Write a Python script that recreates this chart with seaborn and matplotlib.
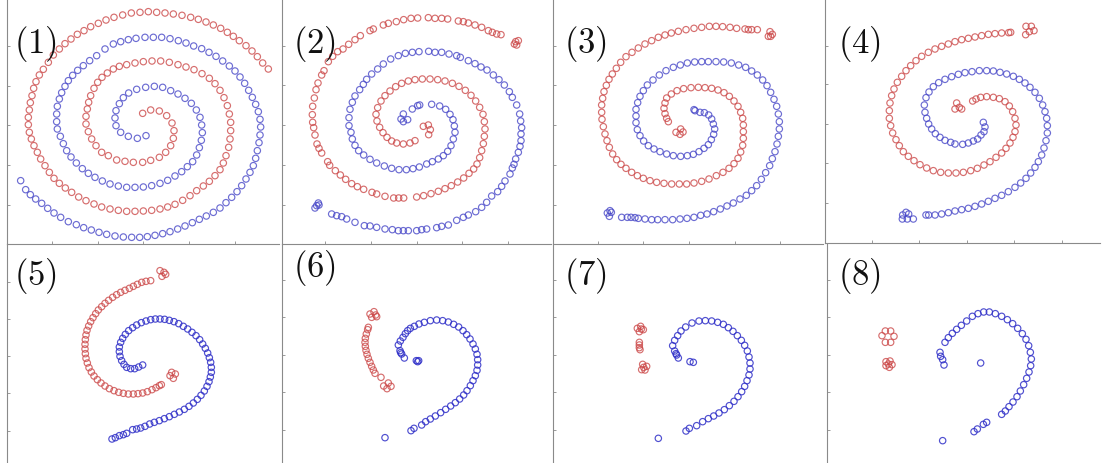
import matplotlib
matplotlib.use("Agg")
import matplotlib.pyplot as plt
import seaborn as sns

sns.set_style("white")
plt.rcParams["mathtext.fontset"] = "cm"

# ---------------- data: point positions (panel-local pixel units, y downwards)
P1_RED = [(428,343),(452,333),(478,336),(500,350),(516,372),(522,395),(520,418),(512,440),(497,460),(478,475),(452,484),(428,490),(400,490),(375,487),(350,483),(325,470),(305,460),(288,440),(275,420),(265,398),(258,375),(258,352),(262,330),(266,310),(272,290),(282,268),(293,250),(306,235),(322,222),(340,210),(358,202),(380,197),(405,192),(430,188),(456,186),(482,186),(508,190),(534,197),(558,204),(582,212),(606,224),(628,238),(645,254),(660,274),(672,296),(682,320),(688,345),(692,370),(692,395),(690,420),(686,445),(678,470),(670,492),(660,512),(645,530),(628,547),(610,561),(590,575),(570,590),(548,604),(525,616),(503,624),(480,630),(455,634),(430,636),(405,637),(380,637),(355,634),(330,630),(305,624),(282,615),(258,605),(236,594),(215,580),(196,567),(178,553),(162,538),(148,520),(135,500),(122,480),(112,460),(102,440),(94,420),(88,400),(85,377),(85,355),(88,333),(91,311),(96,290),(101,268),(108,248),(118,228),(130,211),(145,190),(160,168),(178,150),(195,134),(213,120),(232,106),(252,95),(272,83),(295,73),(318,63),(342,55),(368,48),(394,42),(420,40),(445,38),(470,40),(495,42),(520,45),(546,49),(572,55),(595,61),(618,69),(640,78),(662,88),(682,100),(700,112),(718,125),(738,140),(756,156),(772,173),(788,192),(805,210)]
P1_BLUE = [(438,410),(412,418),(385,412),(362,400),(348,380),(345,357),(348,335),(358,314),(370,296),(386,282),(410,271),(437,265),(463,262),(488,265),(512,275),(534,285),(555,298),(574,313),(589,333),(600,355),(605,378),(607,401),(604,424),(598,446),(590,468),(578,488),(562,503),(545,518),(525,531),(503,544),(480,553),(455,560),(430,564),(405,565),(380,565),(355,561),(330,555),(307,546),(285,535),(265,523),(247,509),(229,492),(213,474),(200,455),(190,434),(181,412),(172,390),(170,368),(170,345),(172,322),(178,300),(185,281),(195,262),(205,245),(218,229),(233,214),(250,200),(269,185),(290,170),(315,150),(340,135),(362,128),(385,122),(408,118),(435,115),(460,115),(485,115),(510,119),(535,125),(558,132),(581,141),(605,149),(627,160),(648,172),(668,186),(688,201),(705,216),(720,234),(734,253),(746,274),(757,295),(767,316),(775,338),(780,361),(782,384),(780,408),(777,431),(772,455),(767,478),(760,500),(750,520),(738,540),(725,560),(711,578),(695,595),(678,611),(660,627),(640,640),(619,651),(598,661),(577,671),(555,681),(533,690),(510,698),(488,704),(465,709),(442,713),(419,715),(395,715),(370,714),(345,711),(320,706),(297,700),(274,693),(251,686),(229,677),(205,668),(182,655),(162,642),(143,628),(125,613),(107,600),(91,587),(77,572),(62,545)]

P2_RED = [(420,425),(405,432),(385,435),(365,432),(350,426),(336,415),(324,401),(314,385),(306,366),(303,346),(308,326),(318,306),(330,290),(345,276),(362,263),(380,253),(400,246),(420,242),(442,240),(465,240),(488,242),(510,246),(532,253),(552,262),(571,274),(588,289),(602,306),(614,325),(624,346),(628,368),(630,390),(628,412),(625,434),(620,455),(614,476),(606,495),(596,510),(582,523),(566,537),(548,549),(529,560),(510,569),(490,577),(468,584),(446,590),(425,594),(386,597),(371,597),(356,597),(330,592),(305,585),(291,580),(266,571),(247,563),(230,554),(212,541),(196,528),(181,515),(164,499),(158,488),(140,462),(132,448),(126,435),(120,408),(116,386),(113,370),(112,347),(113,322),(118,297),(123,272),(129,252),(140,228),(147,215),(160,188),(173,172),(188,158),(204,150),(221,136),(240,122),(256,110),(285,95),(295,90),(325,78),(340,73),(364,68),(386,62),(408,58),(428,57),(460,56),(480,58),(500,58),(518,60),(550,66),(565,68),(580,72),(600,78),(620,85),(640,95),(652,100),(665,105),(678,107),
          (722,128),(730,125),(725,138),(718,135),
          (445,382),(460,378),(466,392),(461,407)]
P2_BLUE = [(385,345),(378,360),(398,362),(385,368),
           (412,330),(428,320),(434,318),(470,316),(494,321),(512,331),(525,346),(534,362),(538,381),(540,400),(535,420),(528,440),(518,457),(505,470),(490,480),(472,488),(455,495),(433,504),(414,509),(394,512),(372,512),(350,508),(328,501),(305,492),(285,481),(266,468),(251,455),(240,439),(232,420),(228,400),(222,380),(222,356),(225,331),(232,310),(240,291),(254,272),(265,256),(275,241),(290,225),(308,210),(325,195),(347,180),(370,170),(391,163),(412,160),(432,158),(461,157),(480,160),(500,160),(522,165),(545,170),(556,175),(580,185),(600,194),(618,204),(636,213),(655,228),(672,242),(688,258),(703,278),(712,295),(725,318),(734,345),(737,366),(740,386),(738,405),(738,425),(735,442),(730,460),(722,480),(717,496),(712,507),(705,525),(690,546),(680,562),(668,578),(650,591),(635,610),(620,625),(602,638),(580,648),(565,655),(545,664),(520,678),(500,682),(485,686),(455,690),(440,692),(425,695),(400,695),(385,695),(370,695),(352,692),(330,690),(305,685),(285,681),(268,680),(240,670),(215,660),(200,653),(185,650),(170,645),
           (130,612),(125,620),(120,627),(132,618)]

P3_RED = [(660,98),(667,106),(655,112),(662,112),
          (622,92),(605,92),(595,92),(585,90),(560,88),(540,85),(518,83),(498,82),(478,82),(455,85),(432,88),(408,92),(385,97),(364,102),(345,108),(325,115),(305,125),(285,135),(265,147),(246,160),(228,173),(212,190),(199,208),(187,225),(177,241),(169,259),(162,278),(158,298),(155,318),(155,340),(156,361),(160,383),(165,405),(171,425),(178,445),(188,465),(200,482),(213,496),(228,508),(245,520),(262,530),(280,538),(300,545),(320,550),(342,553),(365,555),(388,555),(410,555),(432,552),(455,547),(477,540),(499,530),(519,520),(537,508),(552,494),(564,478),(572,459),(578,439),(580,418),(580,398),(580,378),(578,358),(572,340),(564,322),(552,306),(538,292),(522,281),(504,273),(485,268),(465,266),(445,265),(423,266),(401,269),(381,275),(364,285),(350,297),(345,312),(342,328),(345,344),(350,358),(355,368),
          (378,400),(392,390),(399,399),(390,406)]
P3_BLUE = [(180,635),(172,642),(178,652),(184,640),
           (215,655),(232,655),(243,655),(255,656),(265,658),(285,660),(305,662),(323,662),(345,662),(368,662),(390,660),(411,658),(432,655),(452,649),(471,645),(491,638),(511,630),(531,621),(550,612),(570,600),(589,589),(605,575),(620,560),(634,541),(647,521),(659,500),(667,479),(675,458),(681,435),(685,412),(688,390),(688,368),(685,345),(680,322),(672,301),(662,280),(651,260),(638,243),(622,228),(605,216),(587,205),(566,198),(544,192),(521,189),(498,188),(475,188),(455,188),(434,189),(412,192),(391,198),(370,205),(348,215),(328,228),(309,243),(292,258),(280,275),(270,292),(263,311),(258,331),(258,351),(258,371),(262,392),(270,410),(281,426),(295,440),(312,450),(330,458),(350,465),(370,470),(392,472),(412,470),(430,466),(447,458),(462,448),(475,437),(484,422),(491,406),(494,390),(490,375),(485,360),(476,348),(463,341),(450,340),(435,335),(432,332)]

P4_RED = [(618,82),(634,82),(642,95),(628,98),(617,107),
          (572,100),(566,101),(545,102),(525,104),(505,106),(485,110),(465,114),(445,118),(425,122),(405,128),(385,135),(365,142),(345,150),(325,160),(305,172),(288,185),(272,200),(258,215),(245,232),(232,250),(222,270),(215,290),(210,312),(208,335),(208,358),(212,380),(218,402),(228,422),(238,440),(250,458),(265,472),(282,485),(300,497),(320,507),(340,515),(362,520),(385,522),(408,522),(430,520),(452,515),(472,508),(492,498),(510,488),(528,475),(545,462),(558,448),(570,432),(579,415),(585,398),(588,378),(585,358),(578,338),(568,321),(555,308),(538,299),(520,295),(500,293),(482,295),(468,300),(458,306),
          (410,312),(418,325),(405,330),(425,330)]
P4_BLUE = [(248,648),(258,640),(266,645),(262,660),(280,660),(247,660),
           (318,648),(326,648),(345,648),(365,645),(385,641),(405,636),(425,632),(445,628),(465,622),(485,615),(505,607),(525,598),(545,589),(565,578),(585,565),(602,552),(618,538),(632,522),(645,505),(655,488),(665,468),(672,447),(678,425),(682,402),(682,380),(680,358),(675,338),(668,318),(658,298),(645,280),(630,265),(615,252),(598,241),(580,232),(560,225),(540,220),(520,216),(500,215),(478,215),(456,218),(435,221),(415,226),(395,233),(375,241),(356,251),(340,263),(327,279),(318,296),(313,318),(315,340),(320,358),(326,375),(335,390),(346,404),(360,415),(375,424),(392,430),(405,435),(428,436),(445,432),(460,426),(473,420),(483,408),(492,398),(495,384),(490,370)]

P5_RED = [(480,95),(492,100),(486,112),(497,106),
          (452,125),(438,127),(425,130),(412,136),(400,142),(388,148),(375,154),(362,160),(350,167),(338,175),(326,184),(315,193),(305,203),(295,213),(287,224),(279,236),(272,248),(266,261),(261,274),(258,288),(256,302),(255,316),(255,330),(256,344),(258,358),(262,372),(267,386),(274,399),(282,411),(292,422),(303,432),(315,441),(328,449),(342,455),(356,460),(370,463),(385,465),(400,465),(414,464),(428,462),(442,458),(456,452),(468,446),(478,440),(484,437),
          (515,400),(526,405),(520,418),(510,410)]
P5_BLUE = [(428,378),(416,384),(404,389),(392,389),(380,385),(372,376),(365,365),(360,352),(358,338),(358,324),(362,310),(368,298),(376,286),(386,275),(398,266),(410,258),(424,251),(438,246),(452,242),(466,240),(480,240),(494,241),(508,244),(522,248),(536,254),(550,262),(563,270),(576,280),(588,290),(599,302),(608,315),(616,328),(623,342),(628,356),(632,370),(634,385),(634,400),(631,414),(627,428),(621,442),(613,456),(603,469),(592,481),(580,492),(567,502),(553,511),(538,519),(523,526),(508,533),(493,539),(478,545),(463,550),(449,555),(435,562),(422,567),(410,570),(398,572),
           (380,583),(370,587),(358,590),(346,596),(336,600)]

P6_RED = [(285,225),(297,218),(305,233),(290,235),(302,228),
          (280,265),(278,272),(274,285),(271,298),(270,310),(271,322),(273,334),(276,346),(280,358),(285,370),(290,382),(295,393),(300,403),(318,415),
          (326,441),(340,432),(348,442),(336,449)]
P6_BLUE = [(370,318),(376,306),(384,295),(391,284),(398,275),(406,268),(418,262),(432,255),(448,250),(466,245),(485,243),(503,245),(520,249),(536,256),(551,264),(564,275),(575,287),(585,300),(594,315),(601,330),(606,346),(608,362),(608,378),(606,394),(601,410),(594,425),(586,440),(576,455),(566,468),(554,480),(541,491),(527,501),(512,511),(497,521),(481,531),(466,540),(452,548),(440,558),
           (375,335),(380,345),(388,357),(377,341),(424,365),(431,365),(428,368),
           (408,575),(417,568),(330,596)]

P7_RED = [(262,268),(272,262),(280,272),(268,278),(274,270),
          (268,310),(268,318),(268,326),(270,332),
          (278,376),(290,382),(285,393),(275,392),(281,385)]
P7_BLUE = [(368,320),(374,304),(383,290),(393,276),(407,264),(426,252),(447,246),(466,245),(485,246),(503,250),(520,256),(535,266),(549,277),(562,290),(574,304),(584,319),(592,336),(597,354),(600,372),(600,390),(597,408),(591,425),(584,442),(575,458),(564,473),(552,487),(538,500),(523,512),(507,522),(491,531),(475,539),(458,548),(440,560),
           (374,336),(380,348),(385,357),(378,344),(420,368),(430,370),
           (408,576),(418,568),(325,598)]

P8_RED = [(186,290),(196,276),(212,276),(222,292),(212,310),(196,310),
          (198,368),(210,366),(216,377),(208,385),(198,380),(205,375)]
P8_BLUE = [(375,310),(385,296),(397,283),(410,271),(424,259),(440,246),(457,232),(474,224),(491,219),(508,219),(526,224),(545,232),(562,242),(578,254),(593,268),(607,284),(618,301),(626,320),(631,340),(634,360),(632,380),(627,399),(620,418),(611,437),(601,456),(591,473),(579,489),(567,503),(556,516),(545,526),
           (500,550),(490,556),(472,570),(462,578),
           (360,340),(362,352),(368,362),(372,378),(482,372),(368,605)]

LABELS = ["(1)", "(2)", "(3)", "(4)", "(5)", "(6)", "(7)", "(8)"]

# ---------------- layout (image pixels)
W, H = 1102, 464
PANELS = [
    dict(o=(0, 0),     box=(7, 279, 0, 245),    xt=[52, 98, 143, 189, 235],    yt=[47, 87, 126, 166, 206], lab=(35, 44),  red=P1_RED, blue=P1_BLUE),
    dict(o=(275, 0),   box=(282, 551, 0, 245),  xt=[325, 371, 417, 462, 508],  yt=[47, 86, 126, 166, 206], lab=(314, 44), red=P2_RED, blue=P2_BLUE),
    dict(o=(550, 0),   box=(553, 823, 0, 245),  xt=[598, 643, 689, 735, 780],  yt=[47, 86, 126, 166, 206], lab=(585, 44), red=P3_RED, blue=P3_BLUE),
    dict(o=(820, 0),   box=(825, 1100, 0, 244), xt=[872, 919, 967, 1014, 1062], yt=[47, 85, 125, 164, 204], lab=(859, 44), red=P4_RED, blue=P4_BLUE),
    dict(o=(0, 240),   box=(7, 279, 245, 480),  xt=[],  yt=[283, 320, 357, 394, 432], lab=(35, 276),  red=P5_RED, blue=P5_BLUE),
    dict(o=(275, 240), box=(282, 551, 245, 480), xt=[], yt=[281, 318, 356, 393, 431], lab=(314, 268), red=P6_RED, blue=P6_BLUE),
    dict(o=(550, 240), box=(553, 823, 245, 480), xt=[], yt=[281, 318, 356, 393, 431], lab=(585, 276), red=P7_RED, blue=P7_BLUE),
    dict(o=(820, 240), box=(827, 1100, 245, 480), xt=[], yt=[281, 318, 356, 393, 431], lab=(859, 276), red=P8_RED, blue=P8_BLUE),
]

RED = "#cc4a4a"
BLUE_TOP = "#4848c8"
BLUE_BOTTOM = "#3030c8"
SPINE = "#8a8a8a"

fig = plt.figure(figsize=(W / 100, H / 100), dpi=100)
fig.patch.set_facecolor("white")


def draw(ax, pts, color, alpha):
    xs = [p[0] for p in pts]
    ys = [p[1] for p in pts]
    sns.scatterplot(x=xs, y=ys, ax=ax, marker="o", s=21, color=color, linewidth=0.85, legend=False)
    coll = ax.collections[-1]
    coll.set_facecolor("none")
    coll.set_edgecolor(color)
    coll.set_alpha(alpha)
    coll.set_clip_on(False)


for i, p in enumerate(PANELS):
    L, R, T, B = p["box"]
    ox, oy = p["o"]
    ax = fig.add_axes([L / W, 1 - B / H, (R - L) / W, (B - T) / H])
    ax.set_facecolor("none")
    draw(ax, p["red"], RED, 0.8)
    draw(ax, p["blue"], BLUE_TOP if i < 4 else BLUE_BOTTOM, 0.8 if i < 4 else 0.85)
    ax.set_xlim((L - ox) * 3, (R - ox) * 3)
    ax.set_ylim((B - oy) * 3, (T - oy) * 3)
    ax.set_xticks([(t - ox) * 3 for t in p["xt"]])
    ax.set_yticks([(t - oy) * 3 for t in p["yt"]])
    ax.set_xticklabels([])
    ax.set_yticklabels([])
    ax.set_xlabel("")
    ax.set_ylabel("")
    ax.tick_params(direction="in", length=2.5, width=0.6, colors=SPINE, left=True, bottom=True)
    for s in ["top", "right"]:
        ax.spines[s].set_visible(False)
    for s in ["left", "bottom"]:
        ax.spines[s].set_visible(True)
        ax.spines[s].set_color(SPINE)
        ax.spines[s].set_linewidth(0.8)
    lx, ly = p["lab"]
    fig.text(lx / W, 1 - ly / H, "$" + LABELS[i] + "$", fontsize=25, ha="center", va="center", color="#111111")

fig.savefig("out.png", dpi=100, facecolor="white")
